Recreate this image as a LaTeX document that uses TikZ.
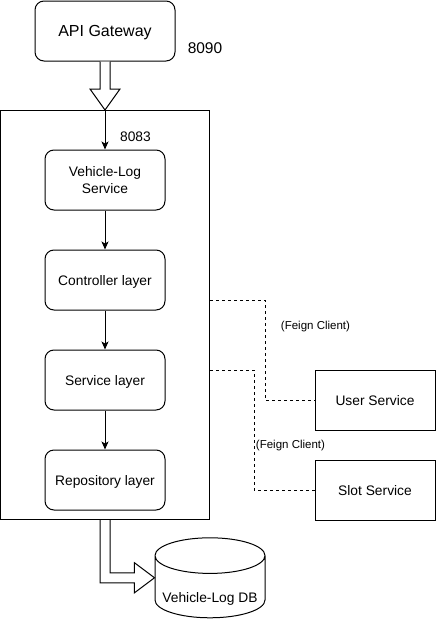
\documentclass[tikz,border=0pt]{standalone}
\usepackage{fontspec}
\setmainfont{Liberation Sans}
\usetikzlibrary{arrows.meta,shapes.geometric,positioning,calc}
\tikzstyle{arrow} = [-{Stealth[length=8pt,width=7pt,inset=2pt]}]
\tikzstyle{layer} = [rectangle, rounded corners=9pt, minimum width=120pt, minimum height=60pt, text centered, align=center, text depth=0pt, draw, font=\fontsize{13.8}{16.5}\selectfont]
\tikzstyle{remote} = [rectangle, minimum width=120pt, minimum height=60pt, text centered, text depth=0pt, draw, font=\fontsize{13.8}{16.5}\selectfont]
\tikzstyle{feign} = [dash pattern=on 3pt off 3pt]
\tikzstyle{blockarrow} = [draw, fill=white, line join=miter]
\tikzstyle{portlabel} = [font=\fontsize{13.8}{16.5}\selectfont]

\begin{document}
\begin{tikzpicture}[x=1pt, y=-1pt, line width=1pt]
\useasboundingbox (0,0) rectangle (436,621);
% Gateway and the service box
\node (gateway) [layer, minimum width=140pt, font=\fontsize{16}{19}\selectfont] at (105,31) {API Gateway};
\node (gwport) [portlabel, font=\fontsize{15.5}{18}\selectfont] at (205,48) {8090};
\node (logapp) [draw, rectangle, minimum width=209pt, minimum height=409pt] at (105,315) {};
\node (appport) [portlabel] at (135.5,137) {8083};

% Layers inside the service
\node (vls) [layer] at (105,180) {Vehicle-Log\\Service};
\node (ctrl) [layer, below=39pt of vls] {Controller layer};
\node (svc) [layer, below=39pt of ctrl] {Service layer};
\node (repo) [layer, below=39pt of svc] {Repository layer};

% Other services and the database
\node (user) [remote] at (375,400) {User Service};
\node (slot) [remote, below=29pt of user] {Slot Service};
\node (db) [cylinder, shape border rotate=90, aspect=0.35, draw, minimum width=110pt, minimum height=80pt, font=\fontsize{13.8}{16.5}\selectfont] at (210,590) {\raisebox{-9pt}[\height][\depth]{Vehicle-Log DB}};
\coordinate (dbmid) at ($(db.north)!.5!(db.south)$);
\coordinate (dbin) at (dbmid -| db.west);

% Block arrows
\draw[blockarrow] ($(gateway.south)+(-5,0)$) -- ($(logapp.north)+(-5,-21)$) -- ($(logapp.north)+(-15,-21)$) -- (logapp.north) -- ($(logapp.north)+(15,-21)$) -- ($(logapp.north)+(5,-21)$) -- ($(gateway.south)+(5,0)$);
\draw[blockarrow] ($(logapp.south)+(-5,0)$) |- ($(dbin)+(-20,5)$) -- ($(dbin)+(-20,15)$) -- (dbin) -- ($(dbin)+(-20,-15)$) -- ($(dbin)+(-20,-5)$) -| ($(logapp.south)+(5,0)$);

\draw[arrow] (logapp.north) -- (vls);
\draw[arrow] (vls) -- (ctrl);
\draw[arrow] (ctrl) -- (svc);
\draw[arrow] (svc) -- (repo);

% Feign calls
\draw[feign] ($(logapp.north east)+(0,190)$) -- ++(55,0) |- (user.west);
\draw[feign] ($(logapp.north east)+(0,260)$) -- ++(44,0) |- (slot.west);
\node (feignuser) [font=\fontsize{11.5}{14}\selectfont] at (315.5,327) {(Feign Client)};
\node (feignslot) [font=\fontsize{11.5}{14}\selectfont] at (290.5,446) {(Feign Client)};
\end{tikzpicture}
\end{document}
